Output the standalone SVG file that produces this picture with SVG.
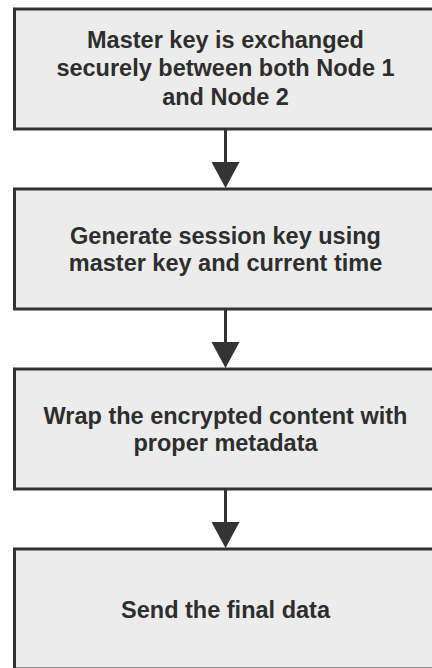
<svg xmlns="http://www.w3.org/2000/svg" width="432" height="668" viewBox="0 0 432 668">
  <defs>
    <style>
      .box { fill: #ececec; stroke: #333333; stroke-width: 3; }
      .lbl { font-family: "Liberation Sans", Arial, sans-serif; font-size: 23.5px; font-weight: bold; fill: #2e2e2e; text-anchor: middle; }
      .edge { stroke: #333333; stroke-width: 3; fill: none; }
      .head { fill: #333333; }
    </style>
  </defs>
  <rect width="432" height="668" fill="#ffffff"/>

  <g id="connectors">
    <line class="edge" x1="225.5" y1="129" x2="225.5" y2="164"/>
    <polygon class="head" points="211.5,162 239.5,162 225.5,188"/>
    <line class="edge" x1="225.5" y1="309" x2="225.5" y2="344"/>
    <polygon class="head" points="211.5,342 239.5,342 225.5,368"/>
    <line class="edge" x1="225.5" y1="489" x2="225.5" y2="524"/>
    <polygon class="head" points="211.5,522 239.5,522 225.5,548"/>
  </g>

  <g id="node-master-key">
    <rect class="box" x="14.5" y="9" width="422" height="120"/>
    <text class="lbl" x="225.5" y="47.5">Master key is exchanged</text>
    <text class="lbl" x="225.5" y="76">securely between both Node 1</text>
    <text class="lbl" x="225.5" y="104.5">and Node 2</text>
  </g>

  <g id="node-session-key">
    <rect class="box" x="14.5" y="189" width="422" height="120"/>
    <text class="lbl" x="225.5" y="243.5">Generate session key using</text>
    <text class="lbl" x="225.5" y="271">master key and current time</text>
  </g>

  <g id="node-wrap">
    <rect class="box" x="14.5" y="369" width="422" height="120"/>
    <text class="lbl" x="225.5" y="423.5">Wrap the encrypted content with</text>
    <text class="lbl" x="225.5" y="451">proper metadata</text>
  </g>

  <g id="node-send">
    <rect class="box" x="14.5" y="549" width="422" height="120"/>
    <text class="lbl" x="225.5" y="617.5">Send the final data</text>
  </g>
</svg>
